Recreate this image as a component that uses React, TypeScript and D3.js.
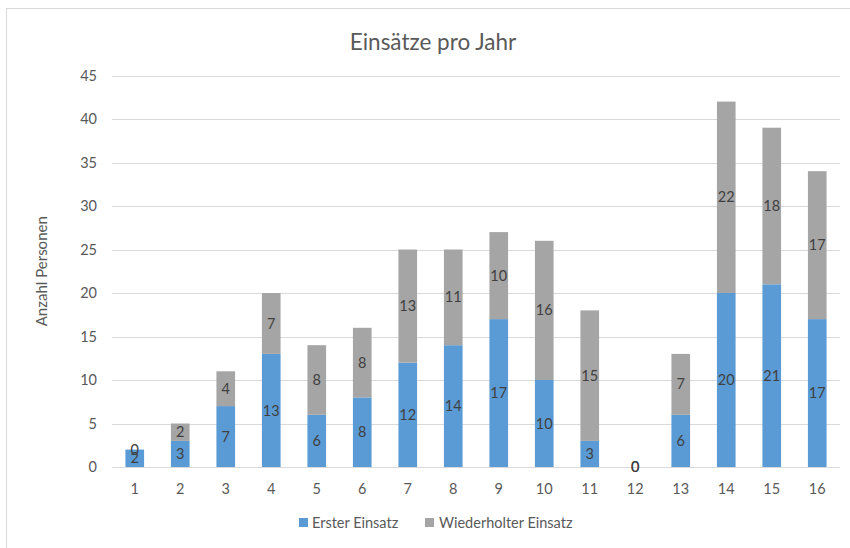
import { scaleBand, scaleLinear, stack } from "d3";

const categories = ["1", "2", "3", "4", "5", "6", "7", "8", "9", "10", "11", "12", "13", "14", "15", "16"];
const ersterEinsatz = [2, 3, 7, 13, 6, 8, 12, 14, 17, 10, 3, 0, 6, 20, 21, 17];
const wiederholterEinsatz = [0, 2, 4, 7, 8, 8, 13, 11, 10, 16, 15, 0, 7, 22, 18, 17];
const seriesNames = ["Erster Einsatz", "Wiederholter Einsatz"];
const seriesColors = ["#5B9BD5", "#A5A5A5"];
const yTicks = [0, 5, 10, 15, 20, 25, 30, 35, 40, 45];

const width = 850;
const height = 548;
const plotLeft = 112;
const plotRight = 840;
const plotTop = 75.5;
const plotBottom = 467;
const font = "Lato, 'Open Sans', sans-serif";

function App() {
  const rows = categories.map((c, i) => ({
    cat: c,
    s0: ersterEinsatz[i],
    s1: wiederholterEinsatz[i]
  }));
  const stacked = stack<any>().keys(["s0", "s1"])(rows);

  const x = scaleBand<string>()
    .domain(categories)
    .range([plotLeft, plotRight])
    .paddingInner(0.59)
    .paddingOuter(0.295);
  const y = scaleLinear().domain([0, 45]).range([plotBottom, plotTop]);

  return (
    <svg width={width} height={height} style={{ position: "absolute", left: 0, top: 0 }}>
      <rect x={0} y={0} width={width} height={height} fill="#fff" />
      <rect x={6.5} y={8.5} width={width} height={height} fill="none" stroke="#D9D9D9" strokeWidth={1} />
      <text
        x={433}
        y={50}
        textAnchor="middle"
        fontFamily={font}
        fontSize={22.5}
        fill="#595959"
      >
        Einsätze pro Jahr
      </text>
      {yTicks.map((t) => (
        <g key={`y-${t}`}>
          <line
            x1={plotLeft}
            x2={plotRight}
            y1={Math.round(y(t)) + 0.5}
            y2={Math.round(y(t)) + 0.5}
            stroke="#D9D9D9"
            strokeWidth={1}
          />
          <text
            x={97}
            y={y(t)}
            dy="0.35em"
            textAnchor="end"
            fontFamily={font}
            fontSize={14.5}
            fill="#595959"
          >
            {t}
          </text>
        </g>
      ))}
      <text
        transform={`translate(47, ${(plotTop + plotBottom) / 2}) rotate(-90)`}
        textAnchor="middle"
        fontFamily={font}
        fontSize={15}
        fill="#595959"
      >
        Anzahl Personen
      </text>
      {stacked.map((layer, si) => (
        <g key={`layer-${si}`} fill={seriesColors[si]}>
          {layer.map((d, i) => (
            <rect
              key={`bar-${si}-${i}`}
              x={x(categories[i])}
              y={y(d[1])}
              width={x.bandwidth()}
              height={Math.max(0, y(d[0]) - y(d[1]))}
            />
          ))}
        </g>
      ))}
      {stacked.map((layer, si) => (
        <g key={`labels-${si}`}>
          {layer.map((d, i) => (
            <text
              key={`lab-${si}-${i}`}
              x={(x(categories[i]) ?? 0) + x.bandwidth() / 2}
              y={y((d[0] + d[1]) / 2)}
              dy="0.35em"
              textAnchor="middle"
              fontFamily={font}
              fontSize={14.5}
              fill="#404040"
            >
              {si === 0 ? ersterEinsatz[i] : wiederholterEinsatz[i]}
            </text>
          ))}
        </g>
      ))}
      {categories.map((c) => (
        <text
          key={`x-${c}`}
          x={(x(c) ?? 0) + x.bandwidth() / 2}
          y={489}
          dy="0.35em"
          textAnchor="middle"
          fontFamily={font}
          fontSize={14.5}
          fill="#595959"
        >
          {c}
        </text>
      ))}
      <g>
        <rect x={299} y={518} width={9} height={9} fill={seriesColors[0]} />
        <text x={312} y={523} dy="0.35em" fontFamily={font} fontSize={14.5} fill="#595959">
          {seriesNames[0]}
        </text>
        <rect x={425} y={518} width={9} height={9} fill={seriesColors[1]} />
        <text x={439} y={523} dy="0.35em" fontFamily={font} fontSize={14.5} fill="#595959">
          {seriesNames[1]}
        </text>
      </g>
    </svg>
  );
}

export default App;
